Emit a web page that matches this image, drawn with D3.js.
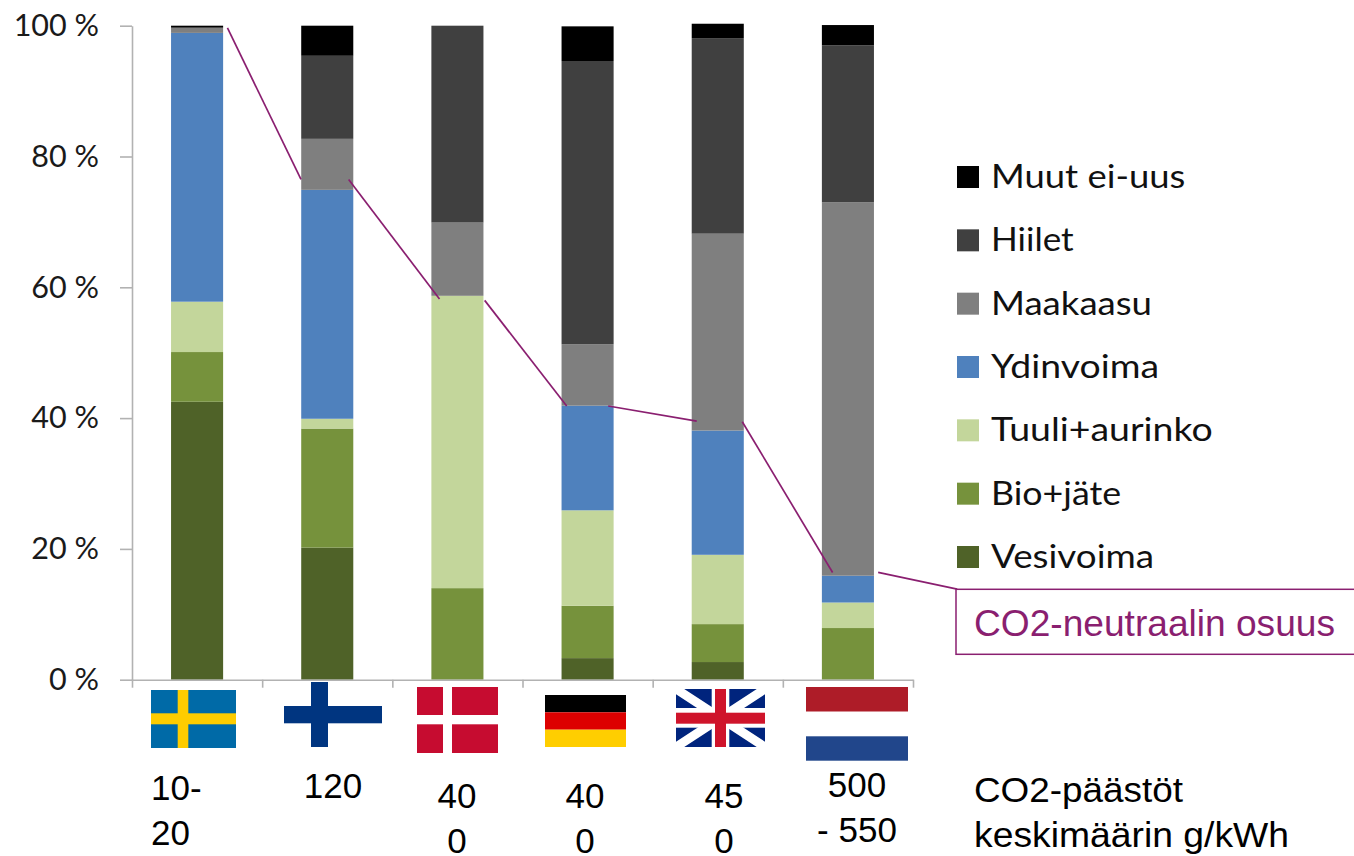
<!DOCTYPE html>
<html>
<head>
<meta charset="utf-8">
<title>CO2-neutraalin osuus</title>
<script src="https://d3js.org/d3.v7.min.js"></script>
<style>
html, body { margin: 0; padding: 0; background: #fff; overflow: hidden; }
svg { display: block; }
.tick text { font-family: Lato, sans-serif; }
</style>
</head>
<body>
<div id="chart"></div>
<script>
// values, shares in %
var countries = ["Ruotsi", "Suomi", "Tanska", "Saksa", "Iso-Britannia", "Hollanti"];
var seriesNames = ["Vesivoima", "Bio+jäte", "Tuuli+aurinko", "Ydinvoima", "Maakaasu", "Hiilet", "Muut ei-uus"];
var vesivoima = [42.5, 20.2, 0, 3.3, 2.7, 0];
var biojate = [7.6, 18.2, 14.0, 8.0, 5.8, 7.9];
var tuuliaurinko = [7.7, 1.5, 44.7, 14.6, 10.6, 3.9];
var ydinvoima = [41.1, 35.0, 0, 16.0, 19.0, 4.1];
var maakaasu = [0.8, 7.8, 11.2, 9.4, 30.1, 57.1];
var hiilet = [0, 12.7, 30.1, 43.3, 29.9, 24.0];
var muut = [0.3, 4.6, 0, 5.3, 2.2, 3.1];
var colors = ["#4f6228", "#76923c", "#c3d69b", "#4f81bd", "#7f7f7f", "#404040", "#000000"];
var yTicks = [0, 20, 40, 60, 80, 100];
var emissionLabels = [["10-", "20"], ["120"], ["40", "0"], ["40", "0"], ["45", "0"], ["500", "- 550"]];
// connector ends: [position in categories, share %]
var connectors = [
  [[0.234, 99.65], [0.799, 76.5]],
  [[1.165, 76.5], [1.863, 58.2]],
  [[2.210, 58.0], [2.840, 41.85]],
  [[3.159, 41.85], [3.839, 39.55]],
  [[4.189, 39.45], [4.883, 16.4]],
  [[5.233, 16.4], [5.84, 13.85]]
];

var rows = [vesivoima, biojate, tuuliaurinko, ydinvoima, maakaasu, hiilet, muut];
var table = countries.map(function(c, i) {
  var o = {country: c};
  seriesNames.forEach(function(s, j) { o[s] = rows[j][i]; });
  return o;
});

var width = 1354, height = 856;
var svg = d3.select("#chart").append("svg").attr("width", width).attr("height", height);

var x = d3.scaleBand().domain(countries).range([132, 913]).paddingInner(0.6).paddingOuter(0.3);
var y = d3.scaleLinear().domain([0, 100]).range([679.7, 25.7]);
var edges = d3.scaleLinear().domain([0, 6]).range([132, 913]);
var pos = d3.scaleLinear().domain([0, 1]).range([197, 197 + x.step()]);

// bars
var stacked = d3.stack().keys(seriesNames)(table);
svg.append("g").selectAll("g").data(stacked).enter().append("g")
  .attr("fill", function(d, i) { return colors[i]; })
  .selectAll("rect").data(function(d) { return d; }).enter().append("rect")
  .attr("x", function(d) { return x(d.data.country); })
  .attr("width", x.bandwidth())
  .attr("y", function(d) { return y(d[1]); })
  .attr("height", function(d) { return y(d[0]) - y(d[1]); });

// axes
var yAxis = svg.append("g").attr("transform", "translate(132,0)")
  .call(d3.axisLeft(y).tickValues(yTicks).tickSize(12).tickSizeOuter(0).tickPadding(21)
    .tickFormat(function(d) { return d + " %"; }));
var xAxis = svg.append("g").attr("transform", "translate(0,679.7)")
  .call(d3.axisBottom(edges).tickValues(d3.range(0, 7)).tickSize(8).tickSizeOuter(0).tickFormat(""));
[yAxis, xAxis].forEach(function(a) {
  a.selectAll("path, line").attr("stroke", "#b2b2b2").attr("stroke-width", 1.6);
});
yAxis.selectAll("text").attr("font-size", 30.5).attr("fill", "#1a1a1a");

// legend, top entry is the last series
var legendY = d3.scalePoint().domain(seriesNames.slice().reverse()).range([177, 557]);
var legendWidths = [163, 130, 221.7, 168, 161, 82.7, 194.3]; // the labels run wider than Lato does
var legend = svg.append("g").selectAll("g").data(seriesNames).enter().append("g");
legend.append("rect")
  .attr("x", 957).attr("width", 22).attr("height", 22)
  .attr("y", function(d) { return legendY(d) - 11; })
  .attr("fill", function(d, i) { return colors[i]; });
legend.append("text")
  .attr("x", 991)
  .attr("y", function(d) { return legendY(d) + 11; })
  .attr("font-family", "Lato, sans-serif").attr("font-size", 32.5)
  .attr("fill", "#111")
  .attr("textLength", function(d, i) { return legendWidths[i]; })
  .attr("lengthAdjust", "spacingAndGlyphs")
  .text(function(d) { return d; });

// flags
var flagLayer = svg.append("g");
function flagRect(x0, y0, x1, y1, fill, parent) {
  (parent || flagLayer).append("rect").attr("x", x0).attr("y", y0)
    .attr("width", x1 - x0).attr("height", y1 - y0).attr("fill", fill);
}
// Sweden
flagRect(151, 690, 236, 748, "#006aa7");
flagRect(177.7, 690, 188.3, 748, "#fecc00");
flagRect(151, 713.3, 236, 724.3, "#fecc00");
// Finland
flagRect(284, 706, 382, 723.3, "#003580");
flagRect(311, 682, 328, 747, "#003580");
// Denmark
flagRect(417, 687, 498, 753, "#c60c30");
flagRect(443, 687, 452, 753, "#fff");
flagRect(417, 715, 498, 724.3, "#fff");
// Germany
flagRect(545, 695, 626, 712.3, "#000");
flagRect(545, 712.3, 626, 729.7, "#dd0000");
flagRect(545, 729.7, 626, 747, "#ffce00");
// UK
svg.append("clipPath").attr("id", "ukClip").append("rect")
  .attr("x", 676).attr("y", 689).attr("width", 89).attr("height", 58);
var uk = flagLayer.append("g").attr("clip-path", "url(#ukClip)");
flagRect(676, 689, 765, 747, "#00247d", uk);
uk.append("path").attr("d", "M676,689L765,747M765,689L676,747")
  .attr("stroke", "#fff").attr("stroke-width", 9);
flagRect(711.7, 689, 729.3, 747, "#fff", uk);
flagRect(676, 708, 765, 727.7, "#fff", uk);
flagRect(715, 689, 726, 747, "#cf142b", uk);
flagRect(676, 712.7, 765, 723.7, "#cf142b", uk);
// Netherlands
flagRect(806, 687, 908, 711.5, "#ae1c28");
flagRect(806, 736.3, 908, 760.7, "#21468b");

// emission figures under the flags
var labelFont = "'Liberation Sans', Arial, sans-serif";
var labelX = [151, 333, 457, 585, 724, 857];
var labelY = [800, 798, 808, 808, 808, 797];
var labels = svg.append("g").selectAll("text").data(emissionLabels).enter().append("text")
  .attr("font-family", labelFont).attr("font-size", 35).attr("fill", "#000")
  .attr("text-anchor", function(d, i) { return i === 0 ? "start" : "middle"; });
labels.selectAll("tspan").data(function(d, i) {
  return d.map(function(t, k) { return {t: t, i: i, k: k}; });
}).enter().append("tspan")
  .attr("x", function(d) { return labelX[d.i]; })
  .attr("y", function(d) { return labelY[d.i] + d.k * 45; })
  .text(function(d) { return d.t; });

svg.append("text").attr("x", 974).attr("y", 802)
  .attr("font-family", labelFont).attr("font-size", 35).attr("fill", "#000")
  .attr("textLength", 209).attr("lengthAdjust", "spacingAndGlyphs").text("CO2-päästöt");
svg.append("text").attr("x", 974).attr("y", 847)
  .attr("font-family", labelFont).attr("font-size", 35).attr("fill", "#000")
  .attr("textLength", 315).attr("lengthAdjust", "spacingAndGlyphs").text("keskimäärin g/kWh");

// connector lines and callout
var purple = "#8a1f70";
var line = d3.line().x(function(d) { return pos(d[0]); }).y(function(d) { return y(d[1]); });
svg.append("g").selectAll("path").data(connectors).enter().append("path")
  .attr("d", line).attr("fill", "none").attr("stroke", purple).attr("stroke-width", 1.7);
svg.append("rect").attr("x", 956).attr("y", 589.3).attr("width", 420).attr("height", 65)
  .attr("fill", "#fff").attr("stroke", purple).attr("stroke-width", 1.5);
svg.append("text").attr("x", 974).attr("y", 636)
  .attr("font-family", labelFont).attr("font-size", 36).attr("fill", purple)
  .attr("textLength", 361).attr("lengthAdjust", "spacingAndGlyphs")
  .text("CO2-neutraalin osuus");
</script>
</body>
</html>
